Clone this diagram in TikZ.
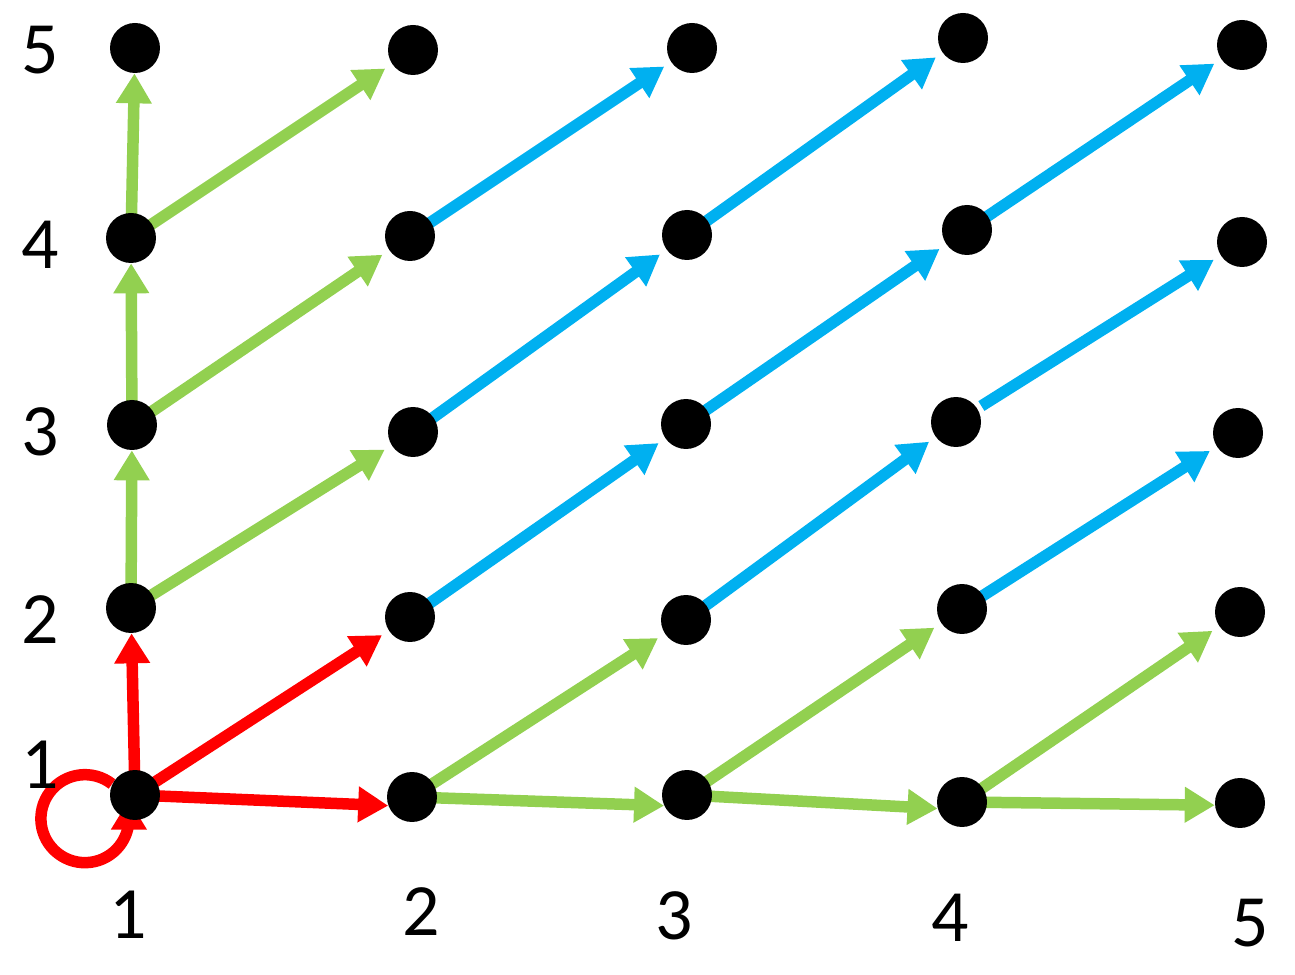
\documentclass[tikz,border=0pt]{standalone}
\usepackage{fontspec}
\setmainfont{Carlito}
\usetikzlibrary{arrows.meta,backgrounds}
\definecolor{cred}{RGB}{255,0,0}
\definecolor{cgreen}{RGB}{146,208,80}
\definecolor{cblue}{RGB}{0,176,240}
\begin{document}
\begin{tikzpicture}[x=0.02cm,y=0.02cm,
  dot/.style={circle,fill=black,minimum size=1cm,inner sep=0pt},
  lab/.style={font=\fontsize{42}{50}\selectfont,inner sep=0pt},
  arr/.style={line width=0.23cm,-{Triangle[length=0.6cm,width=0.68cm]}},
  rarr/.style={arr,draw=cred},
  garr/.style={arr,draw=cgreen},
  barr/.style={arr,draw=cblue},
  diag/.style={shorten >=0.16cm}]
\useasboundingbox (0,0) rectangle (1295,974);
% nodes
\node[dot] (n15) at (135,926) {};
\node[dot] (n14) at (131,736) {};
\node[dot] (n13) at (132,549) {};
\node[dot] (n12) at (131,366) {};
\node[dot] (n11) at (135,179) {};
\node[dot] (n25) at (413,924) {};
\node[dot] (n24) at (410,738) {};
\node[dot] (n23) at (413,542) {};
\node[dot] (n22) at (410,357) {};
\node[dot] (n21) at (412,177) {};
\node[dot] (n35) at (692,926) {};
\node[dot] (n34) at (687,739) {};
\node[dot] (n33) at (686,550) {};
\node[dot] (n32) at (686,354) {};
\node[dot] (n31) at (687,179) {};
\node[dot] (n45) at (963,936) {};
\node[dot] (n44) at (967,744) {};
\node[dot] (n43) at (956,552) {};
\node[dot] (n42) at (962,365) {};
\node[dot] (n41) at (962,172) {};
\node[dot] (n55) at (1242,929) {};
\node[dot] (n54) at (1242,732) {};
\node[dot] (n53) at (1238,541) {};
\node[dot] (n52) at (1240,362) {};
\node[dot] (n51) at (1240,171) {};
% labels
\node[lab] (l5) at (40,924) {5};
\node[lab] (l4) at (40,729) {4};
\node[lab] (l3) at (40,542) {3};
\node[lab] (l2) at (40,354) {2};
\node[lab] (l1) at (40,209) {1};
\node[lab] (b1) at (128,59) {1};
\node[lab] (b2) at (421,62) {2};
\node[lab] (b3) at (674,58) {3};
\node[lab] (b4) at (950,56) {4};
\node[lab] (b5) at (1250,51) {5};
\begin{scope}[on background layer]
% red
\draw[rarr] (n11.center) -- (n12);
\draw[rarr,diag] (n11.center) -- (n22);
\draw[rarr] (n11.center) -- (n21.200);
\draw[rarr] ([shift={(-23,11)}]n11.center) arc[start angle=52,end angle=360,radius=44] -- ++(0,19);
% green
\draw[garr] (n12.center) -- (n13);
\draw[garr] (n13.center) -- (n14);
\draw[garr] (n14.center) -- (n15);
\draw[garr,diag] (n12.center) -- (n23);
\draw[garr,diag] (n13.center) -- (n24);
\draw[garr,diag] (n14.center) -- (n25);
\draw[garr] (n21.center) -- (n31.205);
\draw[garr] (n31.center) -- (n41.195);
\draw[garr] (n41.center) -- (n51.185);
\draw[garr,diag] (n21.center) -- (n32);
\draw[garr,diag] (n31.center) -- (n42);
\draw[garr,diag] (n41.center) -- (n52);
% blue
\draw[barr,diag] (n22.center) -- (n33);
\draw[barr,diag] (n32.center) -- (n43);
\draw[barr,diag] (n42.center) -- (n53);
\draw[barr,diag] (n23.center) -- (n34);
\draw[barr,diag] (n33.center) -- (n44);
\draw[barr,diag,shorten <=0.6cm] (n43.center) -- (n54);
\draw[barr,diag] (n24.center) -- (n35);
\draw[barr,diag] (n34.center) -- (n45);
\draw[barr,diag] (n44.center) -- (n55);
\end{scope}
\end{tikzpicture}
\end{document}
